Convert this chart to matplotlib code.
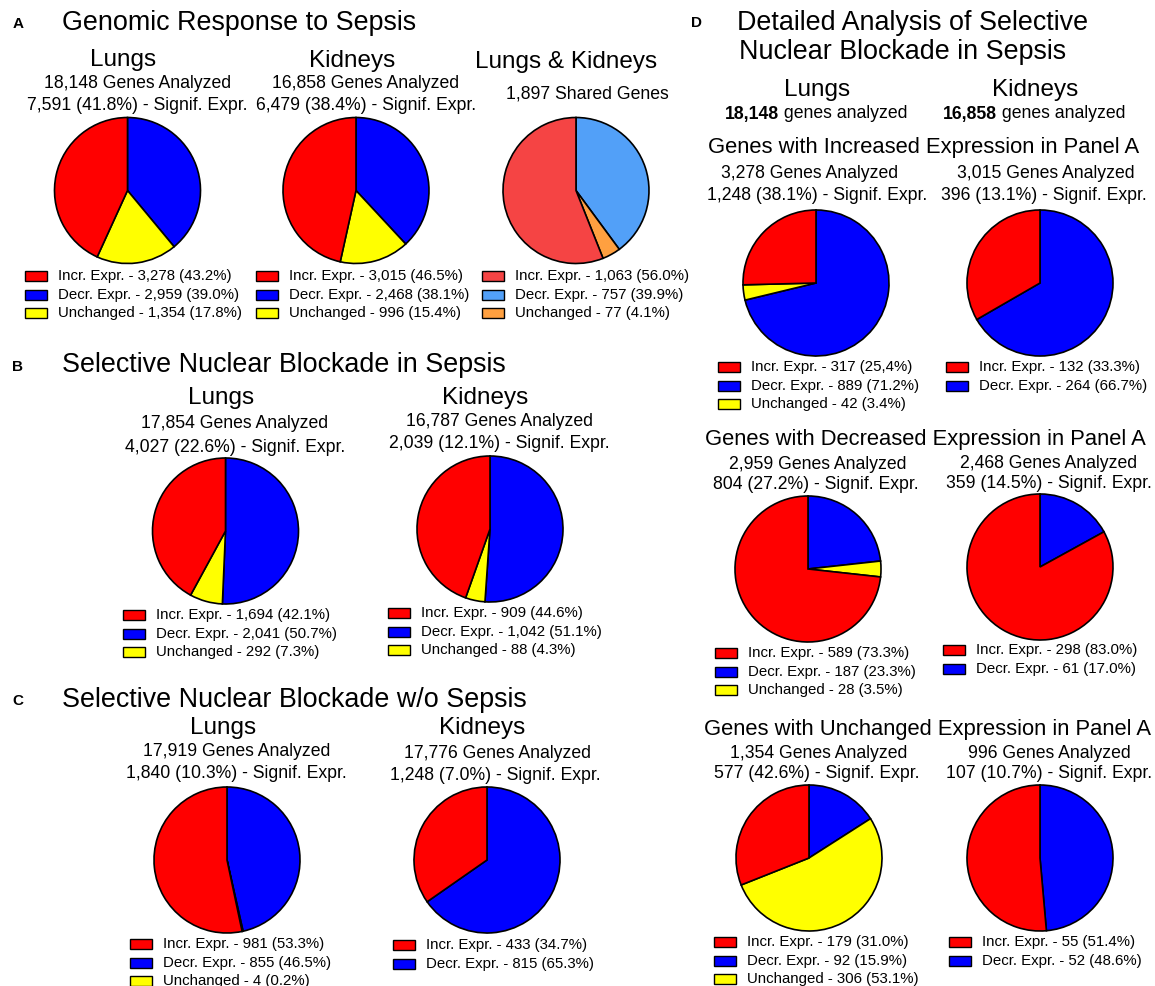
import matplotlib.pyplot as plt
from matplotlib.patches import Rectangle

plt.rcParams["font.family"] = ["Liberation Sans", "DejaVu Sans"]

W, H = 1155, 986

categories = ["Incr. Expr.", "Decr. Expr.", "Unchanged"]
colors_main = ["#ff0000", "#0000ff", "#ffff00"]
colors_shared = ["#f54444", "#52a0f8", "#ffa040"]

# counts in order: increased, decreased, unchanged
a_lungs = [3278, 2959, 1354]
a_lungs_pct = ["43.2", "39.0", "17.8"]
a_kidneys = [3015, 2468, 996]
a_kidneys_pct = ["46.5", "38.1", "15.4"]
a_shared = [1063, 757, 77]
a_shared_pct = ["56.0", "39.9", "4.1"]

b_lungs = [1694, 2041, 292]
b_lungs_pct = ["42.1", "50.7", "7.3"]
b_kidneys = [909, 1042, 88]
b_kidneys_pct = ["44.6", "51.1", "4.3"]

c_lungs = [981, 855, 4]
c_lungs_pct = ["53.3", "46.5", "0.2"]
c_kidneys = [433, 815]
c_kidneys_pct = ["34.7", "65.3"]

d_inc_lungs = [317, 889, 42]
d_inc_lungs_pct = ["25,4", "71.2", "3.4"]
d_inc_kidneys = [132, 264]
d_inc_kidneys_pct = ["33.3", "66.7"]
d_dec_lungs = [589, 187, 28]
d_dec_lungs_pct = ["73.3", "23.3", "3.5"]
d_dec_kidneys = [298, 61]
d_dec_kidneys_pct = ["83.0", "17.0"]
d_unc_lungs = [179, 92, 306]
d_unc_lungs_pct = ["31.0", "15.9", "53.1"]
d_unc_kidneys = [55, 52]
d_unc_kidneys_pct = ["51.4", "48.6"]

# genes analyzed / significant (count, pct)
a_analyzed = [18148, 16858]
a_signif = [(7591, "41.8"), (6479, "38.4")]
a_shared_genes = 1897
b_analyzed = [17854, 16787]
b_signif = [(4027, "22.6"), (2039, "12.1")]
c_analyzed = [17919, 17776]
c_signif = [(1840, "10.3"), (1248, "7.0")]
d_analyzed = [18148, 16858]
d_inc_analyzed = [3278, 3015]
d_inc_signif = [(1248, "38.1"), (396, "13.1")]
d_dec_analyzed = [2959, 2468]
d_dec_signif = [(804, "27.2"), (359, "14.5")]
d_unc_analyzed = [1354, 996]
d_unc_signif = [(577, "42.6"), (107, "10.7")]

fig = plt.figure(figsize=(W / 100, H / 100), dpi=100)

TITLE = 19.4
ORGAN = 17.5
DSUB = 15.8
SUB = 12.7
LEG = 10.8


def fx(x):
    return x / W


def fy(y):
    return 1 - y / H


def txt(x, y, s, size, weight="normal", ha="center"):
    fig.text(fx(x), fy(y), s, fontsize=size, fontweight=weight, ha=ha, va="center")


def pie(cx, cy, counts, pcts, colors, lx, ly, r=73):
    pad = 1.04
    ax = fig.add_axes([fx(cx - r * pad), fy(cy + r * pad), 2 * r * pad / W, 2 * r * pad / H])
    # clockwise from 12 o'clock: decreased, unchanged, increased
    order = [1, 2, 0] if len(counts) == 3 else [1, 0]
    wedges, _ = ax.pie([counts[i] for i in order], colors=[colors[i] for i in order],
                       startangle=90, counterclock=False,
                       wedgeprops=dict(edgecolor="black", linewidth=1.2))
    ax.set_xlim(-pad, pad)
    ax.set_ylim(-pad, pad)
    ax.set_aspect("equal")
    for k in range(len(counts)):
        w = wedges[order.index(k)]
        yy = ly + k * 18.7
        fig.add_artist(Rectangle((fx(lx), fy(yy + 5)), 22 / W, 10 / H,
                                 transform=fig.transFigure, facecolor=w.get_facecolor(),
                                 edgecolor="black", linewidth=1))
        txt(lx + 33, yy, f"{categories[k]} - {counts[k]:,} ({pcts[k]}%)", LEG, ha="left")


def header(x1, y1, x2, y2, analyzed, signif):
    txt(x1, y1, f"{analyzed:,} Genes Analyzed", SUB)
    txt(x2, y2, f"{signif[0]:,} ({signif[1]}%) - Signif. Expr.", SUB)


# ---- Panel A
txt(18, 24, "A", 11, "bold")
txt(62, 23, "Genomic Response to Sepsis", TITLE, ha="left")
txt(123, 60, "Lungs", ORGAN)
txt(352, 61, "Kidneys", ORGAN)
txt(566, 62, "Lungs & Kidneys", ORGAN)
header(137.5, 84, 137, 105, a_analyzed[0], a_signif[0])
header(366, 84, 366, 105, a_analyzed[1], a_signif[1])
txt(587, 94, f"{a_shared_genes:,} Shared Genes", SUB)
pie(127.5, 190.5, a_lungs, a_lungs_pct, colors_main, 25, 276)
pie(356, 190.5, a_kidneys, a_kidneys_pct, colors_main, 256, 276)
pie(576, 190.5, a_shared, a_shared_pct, colors_shared, 482, 276)

# ---- Panel B
txt(17.5, 367, "B", 11, "bold")
txt(62.5, 365, "Selective Nuclear Blockade in Sepsis", TITLE, ha="left")
txt(221, 398, "Lungs", ORGAN)
txt(485, 398, "Kidneys", ORGAN)
header(235, 424, 235, 447, b_analyzed[0], b_signif[0])
header(499, 422, 499, 443, b_analyzed[1], b_signif[1])
pie(225.5, 531, b_lungs, b_lungs_pct, colors_main, 123, 615)
pie(490, 529, b_kidneys, b_kidneys_pct, colors_main, 388, 613)

# ---- Panel C
txt(17.5, 701, "C", 11, "bold")
txt(62.5, 700, "Selective Nuclear Blockade w/o Sepsis", TITLE, ha="left")
txt(223, 728, "Lungs", ORGAN)
txt(482.5, 728, "Kidneys", ORGAN)
header(237, 752, 236, 774, c_analyzed[0], c_signif[0])
header(497, 753, 495, 775, c_analyzed[1], c_signif[1])
pie(227, 860, c_lungs, c_lungs_pct, colors_main, 130, 944)
pie(487, 860, c_kidneys, c_kidneys_pct, colors_main, 392.5, 945)

# ---- Panel D
txt(697, 23, "D", 11, "bold")
txt(737, 23, "Detailed Analysis of Selective", TITLE, ha="left")
txt(739, 52, "Nuclear Blockade in Sepsis", TITLE, ha="left")
txt(817, 90, "Lungs", ORGAN)
txt(1035, 90, "Kidneys", ORGAN)
for split, n in zip([779, 997], d_analyzed):
    txt(split, 114, f"{n:,}", SUB, "bold", ha="right")
    txt(split, 114, " genes analyzed", SUB, ha="left")

txt(924, 147, "Genes with Increased Expression in Panel A", DSUB)
header(810, 174, 817.5, 195, d_inc_analyzed[0], d_inc_signif[0])
header(1045.5, 174, 1044, 195, d_inc_analyzed[1], d_inc_signif[1])
pie(816, 283, d_inc_lungs, d_inc_lungs_pct, colors_main, 718, 367)
pie(1040, 283, d_inc_kidneys, d_inc_kidneys_pct, colors_main, 946, 367)

txt(925.5, 440, "Genes with Decreased Expression in Panel A", DSUB)
header(818, 465, 816, 485, d_dec_analyzed[0], d_dec_signif[0])
header(1049, 463, 1049, 483, d_dec_analyzed[1], d_dec_signif[1])
pie(808, 569, d_dec_lungs, d_dec_lungs_pct, colors_main, 715, 653)
pie(1040, 567, d_dec_kidneys, d_dec_kidneys_pct, colors_main, 943, 650)

txt(927, 729, "Genes with Unchanged Expression in Panel A", DSUB)
header(819, 754, 817, 774, d_unc_analyzed[0], d_unc_signif[0])
header(1049, 754, 1049, 774, d_unc_analyzed[1], d_unc_signif[1])
pie(809, 858, d_unc_lungs, d_unc_lungs_pct, colors_main, 714, 942)
pie(1040, 858, d_unc_kidneys, d_unc_kidneys_pct, colors_main, 949, 942)

fig.savefig("out.png", dpi=100, facecolor="white")
